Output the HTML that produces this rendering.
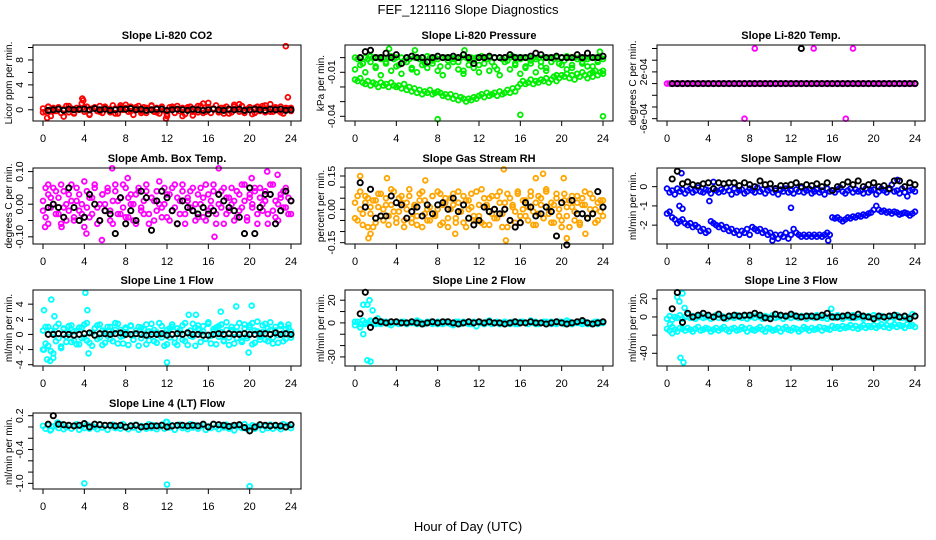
<!DOCTYPE html>
<html><head><meta charset="utf-8">
<style>
html,body{margin:0;padding:0;background:#fff;}
svg{display:block;font-family:"Liberation Sans",Arial,sans-serif;}
</style></head>
<body>
<svg id="chart" width="936" height="540" viewBox="0 0 936 540" xmlns="http://www.w3.org/2000/svg">
<text x="468" y="14" font-size="13" text-anchor="middle">FEF_121116  Slope Diagnostics</text>
<text x="468" y="531" font-size="13" text-anchor="middle">Hour of Day (UTC)</text>
</svg>
<script>
const hourTicks = [0,4,8,12,16,20,24];

// Panel 1: CO2
const co2A = [0.2,-0.3,0.5,-1.0,0.3,-0.2,0.4,-0.5,0.1,0.6,-0.4,0.2,-0.6,0.3,0.0,1.0,-0.3,0.5,-0.7,0.2,0.4,-0.2,0.6,-0.5,0.3,0.1,-0.4,0.7,0.2,-0.6,0.4,0.0,0.8,-0.3,0.5,-0.8,0.2,0.6,-0.2,0.4,-0.5,0.1,0.7,-0.3,0.3,-0.6,0.5,-0.1,-1.0,0.4,0.2,-0.5,0.6,-0.2,0.3,-0.7,0.1,0.5,-0.9,0.2,-0.4,0.6,1.0,-0.3,0.4,-0.5,0.2,0.7,-0.1,0.3,-0.6,0.5,0.0,-0.4,0.8,0.2,-0.3,0.6,-0.5,0.1,0.4,-0.7,0.3,0.5,-0.2,0.6,-0.4,0.2,0.9,-0.3,0.4,-0.1,0.5,-0.6,0.3,0.2,-0.2];
const co2B = [-0.4,0.5,-0.2,0.3,-1.1,0.6,-0.5,0.2,0.4,-0.8,0.3,-0.3,0.5,0.1,-0.6,0.7,0.3,-0.2,0.4,-0.5,0.3,0.6,-0.4,0.2,-0.7,0.5,0.1,-1.0,0.4,-0.3,0.6,-0.5,1.1,0.2,-0.4,0.3,-0.6,0.5,0.9,-0.2,0.4,-0.5,0.3,0.7,-0.3,0.2,-0.4,0.1,0.3];
const co2Out = [[3.8,1.8],[3.9,1.5],[23.5,10.2],[23.7,2.0],[0.4,-1.3],[11.9,-1.4]];
const co2Black = [-0.1,0,0.1,-0.1,0.1,0,0.1,0.1,0,0.2,0,0.1,-0.1,0,0.1,0.1,0.2,0,0.1,-0.1,0,0.1,0.1,-0.1,0,0.1,0,-0.1,0.1,0,-0.1,0,0.1,0,-0.1,0.1,0,0.1,-0.1,0,0.1,0,-0.1,0.1,0,0.1,-0.1,0];

// Panel 2: Pressure (units 0.001 kPa)
const presA = [0,-1,0,-4,0,-1,1,0,-6,0,-1,0,-3,0,1,-1,0,-5,0,-2,0,-1,-7,0,0,-1,0,-4,1,0,-2,0,-1,-6,0,0,-2,0,-1,0,-3,0,-9,0,-1,0,-2,0,-5,1,0,-1,0,-3,0,-8,0,-1,0,-2,0,1,-4,0,-1,0,-6,0,-2,0,-1,0,-3,0,-7,0,0,-1,0,-4,0,-2,1,0,-5,0,-1,0,-3,0,-1,0,-6,0,-2,0,-1];
const presB = [-15,-16,-14,-17,-18,-16,-19,-17,-18,-20,-17,-19,-18,-20,-17,-19,-20,-19,-21,-18,-22,-20,-23,-21,-24,-22,-25,-23,-24,-22,-25,-24,-23,-24,-26,-25,-27,-25,-28,-26,-29,-27,-28,-30,-28,-29,-27,-28,-26,-25,-27,-24,-26,-25,-24,-26,-23,-25,-24,-22,-24,-21,-23,-20,-18,-16,-18,-17,-15,-18,-16,-17,-15,-16,-14,-17,-15,-13,-16,-14,-12,-13,-11,-14,-12,-15,-11,-13,-10,-12,-14,-11,-13,-9,-12,-10,-11];
const presC = [-8,-5,-10,-3,-7,-12,-4,-9,-6,-11,-3,-8,-10,-5,-7,-4,-9,-12,-6,-3,-8,-11,-5,-7,-10,-4,-9,-6,-12,-3,-8,-5,-11,-7,-4,-10,-6,-9,-3,-12,-5,-8,-7,-11,-4,-6,-10,-3,-9];
const presOut = [[8,-42],[16,-39],[24,-40],[3.3,6],[5.8,5],[10.6,5],[23.7,4]];
const presBlack = [0,4,5,0,0,3,0,2,-4,0,1,0,0,-3,0,1,0,0,1,0,2,0,-4,0,0,1,0,0,0,2,0,0,0,1,3,2,0,0,1,0,0,0,2,0,3,0,0,1];

// Panel 3: Temp (units 1e-4)
const tempA = [0,0,0,0,0,0,0,0,0,0,0,0,0,0,0,0,0,0,0,0,0,0,0,0,0,0,0,0,0,0,0,0,0,0,0,0,0,0,0,0,0,0,0,0,0,0,0,0,0,0,0,0,0,0,0,0,0,0,0,0,0,0,0,0,0,0,0,0,0,0,0,0,0,0,0,0,0,0,0,0,0,0,0,0,0,0,0,0,0,0,0,0,0,0,0,0,0];
const tempOut = [[8.5,6],[14.2,6],[18,6],[7.5,-6],[17.3,-6]];
const tempBlack = [0,0,0,0,0,0,0,0,0,0,0,0,0,0,0,0,0,0,0,0,0,0,0,0,0,0,0,0,0,0,0,0,0,0,0,0,0,0,0,0,0,0,0,0,0,0,0,0];
const tempBlackOut = [[13,6]];

// Panel 4: Amb box temp (units 0.01)
const ambA = [1,-4,3,-1,5,-3,2,-6,4,0,-2,6,-5,1,3,-3,7,-1,-4,2,5,-6,0,3,-2,4,-5,1,6,-3,2,-1,5,-4,3,0,-6,4,-2,1,6,-3,2,-5,4,0,-1,5,-4,3,-2,6,-6,1,4,-3,2,-1,5,-5,3,0,-4,6,-2,1,4,-6,3,-1,5,-3,2,0,-5,4,-2,6,1,-4,3,-1,5,-6,2,0,4,-3,6,-2,1,-5,3,4,-1,2,-3];
const ambB = [-2,5,-6,2,0,4,-3,6,-1,-5,3,1,-4,5,-2,0,-7,4,2,-3,6,-1,-5,3,0,5,-2,-6,4,1,-3,6,-4,2,0,-5,3,5,-1,-3,4,-6,2,1,-2,7,-4,0,3,-5,5,-1,2,-3,6,-6,1,4,-2,0,-4,5,2,-5,3,-1,6,-3,0,4,-6,2,-2,5,1,-4,3,-1,6,-5,2,0,4,-3,5,-2,1,-6,3,6,-4,0,2,-1,5,-3,1];
const ambOut = [[0.2,-7],[0.5,6],[4.2,-9],[5.7,-11],[6.7,11],[17,11],[16.6,-10],[21.7,10],[22.7,9],[20.2,8],[1.8,-7],[8.2,8]];
const ambBlack = [-1,0,-1,-4,5,-1,-5,-4,3,0,-5,-2,-3,-9,2,-6,-2,-5,4,2,-8,1,4,2,-2,-6,1,-1,-2,-3,-1,-3,-2,3,1,-1,-2,-4,-9,5,-9,-1,3,3,-6,-2,4,1];

// Panel 5: Gas stream RH (units 0.01)
const rhA = [3,-5,8,-2,6,-8,1,4,-6,7,-3,0,5,-7,2,8,-4,-1,6,-5,3,9,-6,1,-3,7,-8,4,0,-5,6,-2,8,-7,2,5,-4,0,7,-6,3,-1,6,-8,4,1,-5,8,-3,-6,5,2,-7,6,0,-4,8,-2,3,-8,5,1,-6,7,-3,0,4,-5,8,-1,-7,6,2,-4,9,-2,3,-6,5,0,-8,7,-3,4,1,-5,6,-7,2,8,-4,0,5,-6,3,-1,4];
const rhB = [-4,6,0,-7,3,5,-2,-8,4,1,7,-5,2,-3,9,-1,-6,5,3,-8,0,6,-4,2,-7,4,8,-2,-5,1,6,-3,0,7,-6,3,-8,5,2,-4,8,-1,-6,4,0,7,-3,-5,2,9,-7,1,5,-2,-4,6,3,-8,0,7,-5,2,-1,8,-6,4,-3,1,6,-7,3,-2,5,-4,8,0,-6,2,7,-3,-5,4,1,-8,6,-1,3,-6,5,2,-4,7,-2,0,-5,4,-3];
const rhOut = [[0.5,15],[1.3,-13],[1.5,-11],[3.1,14],[14.4,18],[14.6,-14],[17.5,14],[18.2,16],[20.2,14],[20.5,-13],[9.7,-11],[22.3,-11],[6.8,13]];
const rhBlack = [12,1,9,-4,-3,-3,6,3,2,-4,-1,1,-3,2,-2,2,3,0,5,-1,2,-4,-7,-5,1,-1,0,-2,0,-5,-8,-6,3,1,-3,-2,1,-1,-12,3,-16,4,-2,-2,-4,-2,8,1];

// Panel 6: Sample flow
const sfA = [-0.1,-0.3,-0.2,-0.4,-0.1,-0.25,-0.15,-0.35,-0.2,-0.1,-0.3,-0.2,-0.05,-0.25,-0.3,-0.15,-0.2,-0.35,-0.1,-0.2,-0.3,-0.15,-0.25,-0.05,-0.2,-0.4,-0.1,-0.3,-0.2,-0.15,-0.35,-0.25,-0.1,-0.2,-0.3,-0.05,-0.25,-0.15,-0.35,-0.2,-0.1,-0.3,-0.2,-0.4,-0.15,-0.25,-0.1,-0.3,-0.2,-0.35,-0.15,-0.25,-0.05,-0.3,-0.2,-0.1,-0.35,-0.25,-0.15,-0.3,-0.2,-0.4,-0.1,-0.25,-0.2,-0.3,-0.15,-0.05,-0.25,-0.35,-0.2,-0.1,-0.3,-0.15,-0.25,-0.2,-0.35,-0.1,-0.3,-0.2,-0.15,-0.4,-0.25,-0.1,-0.2,-0.3,-0.15,0.1,-0.25,-0.2,-0.35,-0.1,-0.3,-0.5,-0.2,-0.15,-0.25];
const sfB = [-1.4,-1.3,-1.6,-1.7,-1.9,-1.8,-1.7,-1.9,-2.0,-1.9,-2.1,-2.0,-2.1,-2.3,-2.2,-2.4,-2.3,-1.8,-1.9,-2.0,-2.1,-2.0,-2.2,-2.1,-2.3,-2.2,-2.4,-2.3,-2.5,-2.3,-2.4,-2.2,-2.5,-2.1,-2.2,-2.3,-2.2,-2.4,-2.3,-2.5,-2.4,-2.6,-2.5,-2.7,-2.5,-2.6,-2.4,-2.7,-2.5,-2.2,-2.4,-2.5,-2.6,-2.5,-2.6,-2.5,-2.6,-2.5,-2.6,-2.5,-2.6,-2.5,-2.4,-2.5,-1.6,-1.65,-1.6,-1.7,-1.8,-1.7,-1.6,-1.65,-1.55,-1.6,-1.5,-1.55,-1.45,-1.5,-1.4,-1.35,-1.2,-1.0,-1.2,-1.3,-1.25,-1.35,-1.3,-1.4,-1.3,-1.35,-1.45,-1.4,-1.35,-1.4,-1.5,-1.4,-1.3];
const sfOut = [[1.2,-1.0],[1.5,-1.15],[4.1,-0.75],[12,-1.1],[1.4,0.7],[4.5,0.25],[22.3,0.35],[15.6,-2.8],[10.2,-2.8]];
const sfBlack = [0.4,0.8,0.15,0.25,0.1,0.05,0.15,0.2,-0.1,0.2,0.15,0.2,0.2,0.05,0.2,0.1,0.0,0.3,0.1,0.15,-0.1,0.05,0.05,0.1,0.2,0.0,0.1,0.05,0.15,0.0,0.2,-0.2,0.0,0.1,0.25,0.1,0.3,0.0,0.1,0.2,0.0,0.05,-0.1,0.3,0.3,0.0,0.2,0.1];

// Panel 7: Line 1 flow
const l1A = [-2,1,-1.5,0.5,-2.5,1,-0.5,-1.8,0.8,-1,0.3,1.2,-0.8,0.5,-1.3,0.9,-0.4,1.5,-1.1,0.2,0.8,-0.6,1.3,-1.4,0.4,-0.2,1.0,-0.9,0.6,1.4,-0.3,-1.2,0.7,0.1,1.1,-0.7,0.5,-1.5,0.9,-0.1,1.3,-0.8,0.3,0.6,-1.1,1.5,-0.4,0.2,-1.3,0.8,1.0,-0.5,-1.4,0.6,1.2,-0.9,0.3,-0.2,1.4,-1.5,0.7,0.2,1.1,-0.6,1.6,-1.2,0.4,0.9,-0.3,1.3,-0.8,0.6,-1.4,1.0,0.2,-0.5,1.5,-1.0,0.8,-0.2,1.2,-1.3,0.5,1.7,-0.7,0.3,1.4,-0.9,0.6,-0.4,1.0,-1.1,1.3,0.2,-0.6,0.9,0.4];
const l1B = [0.5,-1.2,1.0,-2.2,0.2,-0.9,1.4,-1.6,0.7,-0.3,1.1,-1.0,0.4,-1.3,0.9,-0.5,1.3,-0.8,0.2,-1.5,0.8,1.2,-0.4,0.5,-1.1,1.0,-0.6,0.3,1.5,-1.2,0.6,-0.2,0.9,-1.4,1.2,-0.7,0.1,1.0,-0.5,0.7,-1.3,0.4,1.4,-0.9,0.3,-0.1,1.1,-1.5,0.6,-0.4,1.3,-1.1,0.8,0.2,-0.7,1.5,-1.4,0.5,-0.3,0.9,1.2,-1.0,0.4,-0.6,1.4,-0.2,0.7,-1.3,1.1,0.3,-0.9,1.6,-0.4,0.6,-1.2,1.0,0.2,-0.8,1.3,-0.5,0.9,1.5,-1.1,0.4,-0.3,1.2,-0.7,0.8,1.6,-1.2,0.5,-0.1,1.1,-0.9,0.7,1.3,-0.4];
const l1Out = [[0.1,3.2],[0.8,4.6],[4.1,5.5],[4.3,3.2],[12,-3.7],[0.4,-3.3],[0.7,-3.5],[1.1,2.4],[20.2,3.8],[18.7,3.7],[19.9,-2.4],[4.4,-2.5],[0.1,-2],[1.0,-3.1],[14.1,2.6],[14.8,2.6],[17.2,3.0]];
const l1Black = [0,0,0.1,0,0,-0.1,0,0.1,0.2,-0.1,0.1,0.1,0,0.1,0.2,0,0,0.1,0,-0.1,0,0,0.1,-0.1,0,0.1,0,0.2,0,0,-0.1,-0.1,0,0.1,0,0.1,0,0,0.1,0,0,0.1,0.1,0,0.2,0,0.1,0];

// Panel 8: Line 2 flow
const l2A = [-2,1,-4,2,-1,0,1,-1,2,0,-1,1,0,-1,1,0,1,-1,0,1,-1,0,1,0,-1,1,0,-1,0,1,-1,0,1,0,-1,1,0,-1,0,1,0,-1,1,0,1,-1,0,-3,1,0,-1,1,0,-1,0,1,-1,0,1,0,-1,1,0,-1,0,1,0,-1,1,0,1,-1,0,1,-1,0,1,0,-1,1,0,-1,0,1,-1,0,1,0,-1,1,0,-1,0,1,-1,0,1];
const l2B = [1,-1,0,2,-1,0,1,-2,0,1,-1,0,2,-1,1,0,-1,1,0,-2,1,0,-1,1,0,-1,2,0,-1,1,0,-1,1,0,2,-1,0,1,-1,0,1,2,-1,0,1,-1,0,1,0];
const l2Out = [[0.8,16],[1.2,16],[1.4,20],[1.7,11],[1.2,-33],[1.5,-34],[0.8,-10],[0.5,-4],[2.2,4]];
const l2Black = [8,27,-4,2,1,0,1,1,0,0,1,0,-1,0,1,0,1,1,0,-1,0,1,0,1,0,1,0,0,-1,0,1,0,0,1,0,0,-1,0,1,0,-1,0,1,2,0,-1,0,1];

// Panel 9: Line 3 flow
const l3A = [-2,1,-3,0,-1,2,-2,0,3,-1,1,-2,0,2,-1,0,1,-2,0,2,-1,1,0,-2,1,0,-1,2,0,-1,1,-2,0,1,-1,2,0,-2,1,0,-1,2,-1,0,1,-2,0,1,-1,2,0,-1,1,0,-2,1,0,-1,2,0,-1,1,-2,0,1,-1,2,0,-2,1,0,-1,2,-1,0,1,-2,0,1,-1,2,0,-1,1,0,-2,1,0,-1,2,0,-1,1,-2,0,3,1];
const l3B = [-13,-15,-11,-14,-16,-12,-13,-15,-12,-14,-16,-13,-11,-15,-14,-12,-13,-16,-14,-12,-15,-13,-11,-14,-16,-13,-12,-15,-14,-11,-13,-16,-12,-14,-15,-13,-11,-14,-16,-12,-13,-15,-14,-12,-16,-13,-11,-14,-15,-12,-13,-16,-14,-11,-13,-15,-12,-14,-13,-11,-15,-12,-13,-14,-10,-12,-11,-13,-10,-12,-11,-9,-12,-10,-13,-11,-9,-12,-10,-11,-9,-12,-10,-8,-11,-9,-12,-10,-8,-11,-9,-10,-12,-8,-10,-9,-11];
const l3Out = [[1,22],[1.2,17],[1.5,26],[1.3,-45],[1.6,-50],[1.7,10],[15.9,9],[0.5,-18],[0.3,-8]];
const l3Black = [9,27,-6,4,0,2,4,2,0,3,-1,1,2,1,2,2,4,2,-1,-2,3,2,1,3,1,0,1,1,0,2,4,0,0,1,2,0,3,1,0,-2,1,0,1,2,0,1,-2,1];

// Panel 10: Line 4 (LT) flow
const l4A = [0.02,-0.03,0.04,-0.05,0.01,0.03,-0.02,0.05,-0.04,0.0,0.03,-0.03,0.02,0.05,-0.05,0.01,-0.02,0.04,-0.03,0.02,0.0,-0.04,0.05,-0.01,0.03,-0.05,0.02,0.04,-0.02,0.01,-0.03,0.05,0.0,-0.04,0.03,-0.01,0.04,-0.05,0.02,0.0,-0.03,0.05,-0.02,0.03,-0.04,0.01,0.04,-0.03,0.09,-0.01,0.03,-0.05,0.02,0.04,-0.02,0.0,-0.04,0.05,-0.01,0.03,-0.03,0.02,0.04,-0.05,0.01,-0.02,0.05,0.0,-0.04,0.03,-0.01,0.04,-0.03,0.02,-0.06,0.01,0.03,-0.02,0.05,-0.04,0.0,0.03,-0.03,0.02,0.04,-0.05,0.01,-0.02,0.04,-0.03,0.02,0.0,-0.04,0.05,-0.01,0.03,-0.02];
const l4Out = [[4,-1.0],[12,-1.02],[20,-1.05],[11.9,0.09],[1.4,0.08],[0.7,-0.06]];
const l4Black = [0.05,0.2,0.05,0.04,0.03,0.02,0.03,0.06,0.0,0.05,0.04,0.03,0.03,0.02,0.03,0.0,0.02,0.03,0.0,0.01,0.02,0.02,0.03,0.0,0.02,0.03,0.03,0.02,0.03,0.02,0.05,0.0,0.05,0.04,0.03,0.01,0.03,0.04,-0.01,-0.07,0.0,0.04,0.03,0.02,0.03,0.02,0.0,0.04];

const panels = [
 {name:'co2',title:'Slope Li-820 CO2',ylab:'Licor ppm per min.',col:0,row:0,ylim:[-1.8,10.4],ticks:[0,2,4,6,8,10],labels:{0:'0',4:'4',8:'8'},color:'#ff0000',series:[co2A,co2B],out:co2Out,black:co2Black,blackOut:[]},
 {name:'pressure',title:'Slope Li-820 Pressure',ylab:'kPa per min.',col:1,row:0,ylim:[-43.2,8.6],ticks:[0,-10,-20,-30,-40],labels:{'-10':'-0.01','-40':'-0.04'},color:'#00ee00',series:[presA,presB,presC],out:presOut,black:presBlack,blackOut:[]},
 {name:'temp',title:'Slope Li-820 Temp.',ylab:'degrees C per min.',col:2,row:0,ylim:[-6.4,6.6],ticks:[6,4,2,0,-2,-4,-6],labels:{2:'2e-04','-6':'-6e-04'},color:'#ff00ff',series:[tempA],out:tempOut,black:tempBlack,blackOut:tempBlackOut},
 {name:'amb-box-temp',title:'Slope Amb. Box Temp.',ylab:'degrees C per min.',col:0,row:1,ylim:[-12.2,11.1],ticks:[10,5,0,-5,-10],labels:{10:'0.10',0:'0.00','-10':'-0.10'},color:'#ff00ff',series:[ambA,ambB],out:ambOut,black:ambBlack,blackOut:[]},
 {name:'gas-stream-rh',title:'Slope Gas Stream RH',ylab:'percent per min.',col:1,row:1,ylim:[-15.6,18.6],ticks:[15,10,5,0,-5,-10,-15],labels:{15:'0.15',0:'0.00','-15':'-0.15'},color:'#ffa500',series:[rhA,rhB],out:rhOut,black:rhBlack,blackOut:[]},
 {name:'sample-flow',title:'Slope Sample Flow',ylab:'ml/min per min.',col:2,row:1,ylim:[-2.98,0.97],ticks:[0,-1,-2],labels:{0:'0','-1':'-1','-2':'-2'},color:'#0000ff',series:[sfA,sfB],out:sfOut,black:sfBlack,blackOut:[]},
 {name:'line1-flow',title:'Slope Line 1 Flow',ylab:'ml/min per min.',col:0,row:2,ylim:[-4.17,5.87],ticks:[4,2,0,-2,-4],labels:{4:'4',2:'2',0:'0','-2':'-2','-4':'-4'},color:'#00ffff',series:[l1A,l1B],out:l1Out,black:l1Black,blackOut:[]},
 {name:'line2-flow',title:'Slope Line 2 Flow',ylab:'ml/min per min.',col:1,row:2,ylim:[-38,29],ticks:[20,10,0,-10,-20,-30],labels:{20:'20',0:'0','-30':'-30'},color:'#00ffff',series:[l2A,l2B],out:l2Out,black:l2Black,blackOut:[]},
 {name:'line3-flow',title:'Slope Line 3 Flow',ylab:'ml/min per min.',col:2,row:2,ylim:[-54,29.7],ticks:[20,0,-20,-40],labels:{20:'20',0:'0','-40':'-40'},color:'#00ffff',series:[l3A,l3B],out:l3Out,black:l3Black,blackOut:[]},
 {name:'line4-flow',title:'Slope Line 4 (LT) Flow',ylab:'ml/min per min.',col:0,row:3,ylim:[-1.1,0.248],ticks:[0.2,0,-0.2,-0.4,-0.6,-0.8,-1.0],labels:{'0.2':'0.2','-0.4':'-0.4','-1':'-1.0'},color:'#00ffff',series:[l4A],out:l4Out,black:l4Black,blackOut:[]}
];

const NS='http://www.w3.org/2000/svg';
const svg=document.getElementById('chart');
const rowTops=[45,168,290,413];
function mk(tag,attrs,parent){const e=document.createElementNS(NS,tag);for(const k in attrs)e.setAttribute(k,attrs[k]);parent.appendChild(e);return e;}

panels.forEach(p=>{
  const L=33+312*p.col, W=268, T=rowTops[p.row], H=76;
  const xs=h=>L+10+h*(248/24);
  const ys=v=>T+H-(v-p.ylim[0])/(p.ylim[1]-p.ylim[0])*H;
  const g=mk('g',{},svg);
  
  
  const t=mk('text',{x:L+W/2,y:T-6,'font-size':11,'font-weight':'bold','text-anchor':'middle'},g);
  
  
  t.textContent=p.title;
  const yl=mk('text',{transform:`translate(${L-21},${T+H/2}) rotate(-90)`,'font-size':10,'text-anchor':'middle'},g);
  
  
  yl.textContent=p.ylab;
  const pts=mk('g',{fill:'none'},g);
  
  
  const dot=(x,y,c,r,sw)=>{const e=mk('circle',{cx:xs(x).toFixed(1),cy:ys(y).toFixed(1),r:r,stroke:c,'stroke-width':sw},pts);
    
    };
  p.series.forEach(s=>{s.forEach((v,i)=>dot(i*24/(s.length-1),v,p.color,2.4,1.8));});
  p.out.forEach(o=>dot(o[0],o[1],p.color,2.4,1.8));
  p.black.forEach((v,i)=>dot(0.5+i*23.5/(p.black.length-1),v,'#000',2.6,1.9));
  p.blackOut.forEach(o=>dot(o[0],o[1],'#000',2.6,1.9));
  const box=mk('rect',{x:L,y:T,width:W,height:H,fill:'none',stroke:'#000','stroke-width':1},g);
  
  
  hourTicks.forEach(h=>{
    mk('line',{x1:xs(h),x2:xs(h),y1:T+H,y2:T+H+5,stroke:'#000'},g);
    const tl=mk('text',{x:xs(h),y:T+H+21,'font-size':11,'text-anchor':'middle'},g);
    
    
    tl.textContent=h;
  });
  p.ticks.forEach(v=>{
    mk('line',{x1:L-5,x2:L,y1:ys(v),y2:ys(v),stroke:'#000'},g);
    const key=String(v);
    if(p.labels[key]!==undefined){
      const tl=mk('text',{transform:`translate(${L-10},${ys(v)}) rotate(-90)`,'font-size':10.5,'text-anchor':'middle'},g);
      
      
      tl.textContent=p.labels[key];
    }
  });
});
</script>
</body></html>
